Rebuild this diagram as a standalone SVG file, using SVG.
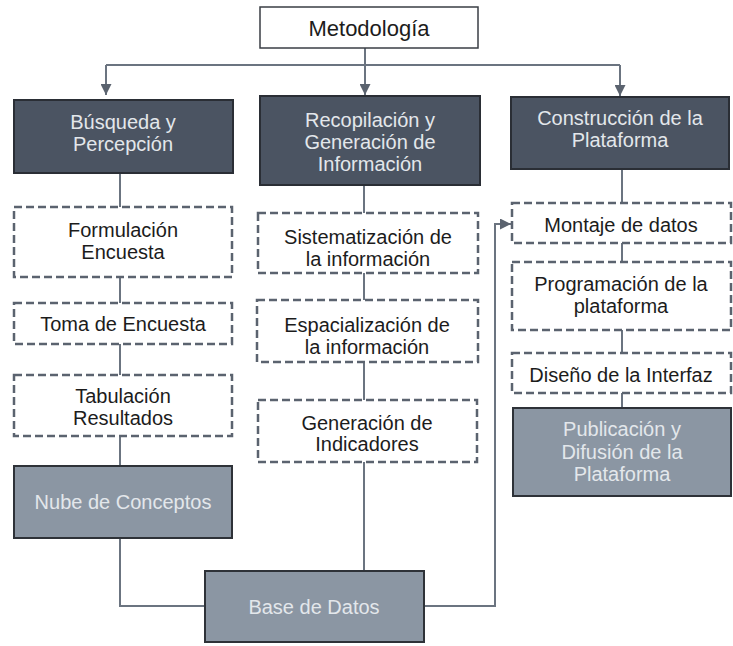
<svg xmlns="http://www.w3.org/2000/svg" width="733" height="646" viewBox="0 0 733 646">
<defs>
<style>
.t{font-family:"Liberation Sans",Arial,sans-serif;font-size:20px;text-anchor:middle}
.dk{fill:#1c1c1c}
.lt{fill:#e3e7eb}
.dark{fill:#4b5462;stroke:#2a2e35;stroke-width:2}
.mid{fill:#8b96a3;stroke:#2e3238;stroke-width:2}
.dash{fill:#fff;stroke:#5b636f;stroke-width:2.5;stroke-dasharray:8 4}
.plain{fill:#fff;stroke:#3a3e44;stroke-width:1.5}
.ln{fill:none;stroke:#6b7480;stroke-width:2}
</style>
<marker id="ah" viewBox="0 0 10 10" refX="10" refY="5" markerWidth="5.5" markerHeight="5.5" orient="auto" markerUnits="strokeWidth">
<path d="M0,0 L10,5 L0,10 Z" fill="#5b636f"/>
</marker>
</defs>
<rect width="733" height="646" fill="#fff"/>
<g id="connectors">
<path class="ln" d="M365,48 V65"/>
<path class="ln" d="M106,65 H620"/>
<path class="ln" d="M106,65 V95" marker-end="url(#ah)"/>
<path class="ln" d="M365,65 V95" marker-end="url(#ah)"/>
<path class="ln" d="M620,65 V96" marker-end="url(#ah)"/>
<path class="ln" d="M120,173 V207"/>
<path class="ln" d="M120,277 V303"/>
<path class="ln" d="M120,344 V375"/>
<path class="ln" d="M120,436 V466"/>
<path class="ln" d="M120,538 V606 H205"/>
<path class="ln" d="M364,185 V213"/>
<path class="ln" d="M364,273 V300"/>
<path class="ln" d="M364,362 V400"/>
<path class="ln" d="M364,462 V571"/>
<path class="ln" d="M424,606 H495 V224 H511" marker-end="url(#ah)"/>
<path class="ln" d="M622,169 V203"/>
<path class="ln" d="M622,243 V262"/>
<path class="ln" d="M622,330 V353"/>
<path class="ln" d="M622,393 V408"/>
</g>
<g id="metodologia">
<rect class="plain" x="260" y="7" width="218" height="41"/>
<text class="t dk" x="369" y="36" style="font-size:22px">Metodología</text>
</g>
<g id="busqueda">
<rect class="dark" x="14" y="100" width="219" height="73"/>
<text class="t lt" x="123" y="129">Búsqueda y</text>
<text class="t lt" x="123" y="151">Percepción</text>
</g>
<g id="recopilacion">
<rect class="dark" x="260" y="96" width="220" height="89"/>
<text class="t lt" x="370" y="127">Recopilación y</text>
<text class="t lt" x="370" y="149">Generación de</text>
<text class="t lt" x="370" y="171">Información</text>
</g>
<g id="construccion">
<rect class="dark" x="511" y="97" width="218" height="72"/>
<text class="t lt" x="620" y="125">Construcción de la</text>
<text class="t lt" x="620" y="147">Plataforma</text>
</g>
<g id="formulacion">
<rect class="dash" x="14" y="207" width="218" height="70"/>
<text class="t dk" x="123" y="237">Formulación</text>
<text class="t dk" x="123" y="259">Encuesta</text>
</g>
<g id="toma">
<rect class="dash" x="14" y="303" width="218" height="41"/>
<text class="t dk" x="123" y="331">Toma de Encuesta</text>
</g>
<g id="tabulacion">
<rect class="dash" x="14" y="375" width="218" height="61"/>
<text class="t dk" x="123" y="403">Tabulación</text>
<text class="t dk" x="123" y="425">Resultados</text>
</g>
<g id="nube">
<rect class="mid" x="14" y="466" width="218" height="72"/>
<text class="t lt" x="123" y="509">Nube de Conceptos</text>
</g>
<g id="sistematizacion">
<rect class="dash" x="258" y="213" width="220" height="60"/>
<text class="t dk" x="368" y="244">Sistematización de</text>
<text class="t dk" x="368" y="266">la información</text>
</g>
<g id="espacializacion">
<rect class="dash" x="257" y="300" width="221" height="62"/>
<text class="t dk" x="367" y="332">Espacialización de</text>
<text class="t dk" x="367" y="354">la información</text>
</g>
<g id="generacion">
<rect class="dash" x="258" y="400" width="219" height="62"/>
<text class="t dk" x="367" y="430">Generación de</text>
<text class="t dk" x="367" y="451">Indicadores</text>
</g>
<g id="base">
<rect class="mid" x="205" y="571" width="219" height="71"/>
<text class="t lt" x="314" y="614">Base de Datos</text>
</g>
<g id="montaje">
<rect class="dash" x="512" y="203" width="219" height="40"/>
<text class="t dk" x="621" y="232">Montaje de datos</text>
</g>
<g id="programacion">
<rect class="dash" x="512" y="262" width="219" height="68"/>
<text class="t dk" x="621" y="291">Programación de la</text>
<text class="t dk" x="621" y="313">plataforma</text>
</g>
<g id="diseno">
<rect class="dash" x="512" y="353" width="219" height="40"/>
<text class="t dk" x="621" y="382">Diseño de la Interfaz</text>
</g>
<g id="publicacion">
<rect class="mid" x="513" y="408" width="218" height="88"/>
<text class="t lt" x="622" y="436">Publicación y</text>
<text class="t lt" x="622" y="459">Difusión de la</text>
<text class="t lt" x="622" y="481">Plataforma</text>
</g>
</svg>
